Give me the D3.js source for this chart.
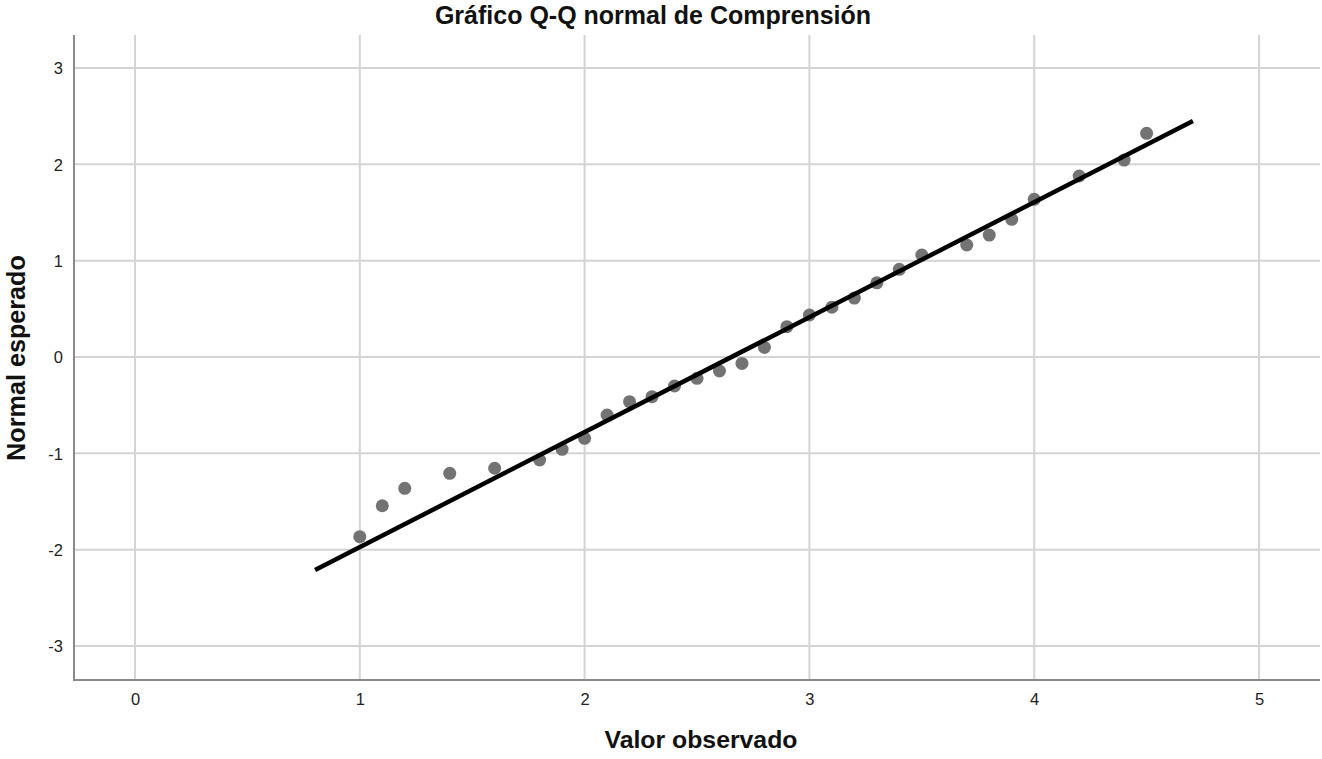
<!DOCTYPE html>
<html>
<head>
<meta charset="utf-8">
<script src="https://cdn.jsdelivr.net/npm/d3@7"></script>
<style>
  html, body { margin: 0; padding: 0; background: #fff; }
  svg { display: block; font-family: "Liberation Sans", Arial, sans-serif; }
</style>
</head>
<body>
<svg id="chart" width="1322" height="759"></svg>
<script>
const observed = [1.0, 1.1, 1.2, 1.4, 1.6, 1.8, 1.9, 2.0, 2.1, 2.2, 2.3, 2.4, 2.5, 2.6, 2.7, 2.8, 2.9, 3.0, 3.1, 3.2, 3.3, 3.4, 3.5, 3.7, 3.8, 3.9, 4.0, 4.2, 4.4, 4.5];
const expectedNormal = [-1.865, -1.544, -1.363, -1.207, -1.155, -1.069, -0.958, -0.844, -0.602, -0.464, -0.412, -0.301, -0.221, -0.145, -0.066, 0.100, 0.315, 0.436, 0.517, 0.612, 0.770, 0.910, 1.059, 1.163, 1.266, 1.429, 1.637, 1.879, 2.045, 2.322];
const lineX = [0.801, 4.706];
const lineY = [-2.211, 2.450];
const xTicks = [0, 1, 2, 3, 4, 5];
const yTicks = [-3, -2, -1, 0, 1, 2, 3];
const titleText = "Gráfico Q-Q normal de Comprensión";
const xTitle = "Valor observado";
const yTitle = "Normal esperado";

const svg = d3.select("#chart");
const L = 74, R = 1320, T = 35, B = 680;

const x = d3.scaleLinear().domain([-0.2713, 5.2713]).range([L, R]);
const y = d3.scaleLinear().domain([-3.353, 3.343]).range([B, T]);
const fmt = d => String(d);

// gridlines
svg.append("g").selectAll("line").data(xTicks).join("line")
  .attr("x1", d => x(d)).attr("x2", d => x(d))
  .attr("y1", T).attr("y2", B)
  .attr("stroke", "#d4d4d4").attr("stroke-width", 2);
svg.append("g").selectAll("line").data(yTicks).join("line")
  .attr("x1", L).attr("x2", R)
  .attr("y1", d => y(d)).attr("y2", d => y(d))
  .attr("stroke", "#d4d4d4").attr("stroke-width", 2);

// axes
const xAxis = d3.axisBottom(x).tickValues(xTicks).tickSize(0).tickPadding(0).tickFormat(fmt);
const gx = svg.append("g").attr("transform", `translate(0,${B})`).call(xAxis);
gx.select(".domain").remove();
gx.selectAll("text").attr("dy", null).attr("y", 25)
  .attr("font-size", 16.5).attr("fill", "#222").attr("font-family", "Liberation Sans, Arial, sans-serif");

const yAxis = d3.axisLeft(y).tickValues(yTicks).tickSize(0).tickPadding(0).tickFormat(fmt);
const gy = svg.append("g").attr("transform", `translate(${L},0)`).call(yAxis);
gy.select(".domain").remove();
gy.selectAll("text").attr("x", -11).attr("dy", "0.35em")
  .attr("font-size", 16.5).attr("fill", "#222").attr("font-family", "Liberation Sans, Arial, sans-serif");

// axis lines
svg.append("line").attr("x1", L).attr("x2", L).attr("y1", T).attr("y2", B + 1)
  .attr("stroke", "#8a8a8a").attr("stroke-width", 2);
svg.append("line").attr("x1", L - 1).attr("x2", R).attr("y1", B).attr("y2", B)
  .attr("stroke", "#8a8a8a").attr("stroke-width", 2);

// points
svg.append("g").selectAll("circle").data(observed).join("circle")
  .attr("cx", d => x(d))
  .attr("cy", (d, i) => y(expectedNormal[i]))
  .attr("r", 6.5)
  .attr("fill", "#737373");

// reference line
svg.append("line")
  .attr("x1", x(lineX[0])).attr("y1", y(lineY[0]))
  .attr("x2", x(lineX[1])).attr("y2", y(lineY[1]))
  .attr("stroke", "#000").attr("stroke-width", 4.5);

// titles
svg.append("text").attr("x", 653).attr("y", 24).attr("text-anchor", "middle")
  .attr("font-size", 25).attr("font-weight", "bold").attr("fill", "#111").text(titleText);
svg.append("text").attr("x", 701).attr("y", 748).attr("text-anchor", "middle")
  .attr("font-size", 24.8).attr("font-weight", "bold").attr("fill", "#111").text(xTitle);
svg.append("text").attr("transform", `translate(25,358) rotate(-90)`).attr("text-anchor", "middle")
  .attr("font-size", 25.2).attr("font-weight", "bold").attr("fill", "#111").text(yTitle);
</script>
</body>
</html>
